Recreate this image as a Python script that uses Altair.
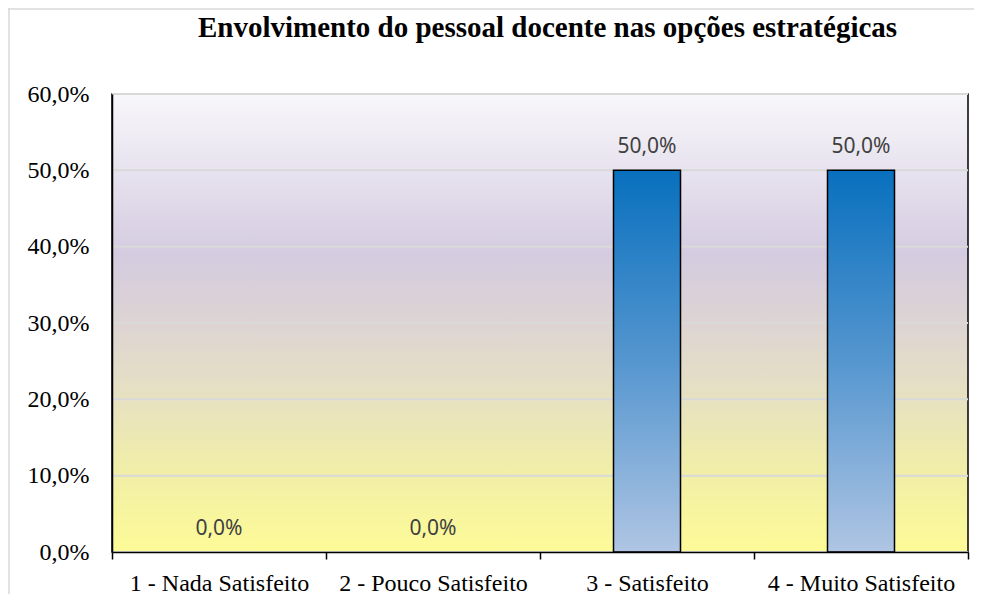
import altair as alt
import pandas as pd

# ---- data ----
categories = ["1 - Nada Satisfeito", "2 - Pouco Satisfeito", "3 - Satisfeito", "4 - Muito Satisfeito"]
values = [0.0, 0.0, 0.5, 0.5]
y_ticks = [0.0, 0.1, 0.2, 0.3, 0.4, 0.5, 0.6]
title_text = "Envolvimento do pessoal docente nas opções estratégicas"

W, H = 856, 458

df = pd.DataFrame({"category": categories, "value": values})
ticks_df = pd.DataFrame({"value": y_ticks})
one = pd.DataFrame({"t": [title_text]})

bg_grad = alt.Gradient(
    gradient="linear", x1=0, x2=0, y1=0, y2=1,
    stops=[
        alt.GradientStop(color="#f8f7fa", offset=0.0),
        alt.GradientStop(color="#e6e1ee", offset=0.18),
        alt.GradientStop(color="#d4cbe0", offset=0.35),
        alt.GradientStop(color="#ddd4d3", offset=0.50),
        alt.GradientStop(color="#e6e0c3", offset=0.65),
        alt.GradientStop(color="#f1eea8", offset=0.82),
        alt.GradientStop(color="#fdfb97", offset=1.0),
    ],
)
bar_grad = alt.Gradient(
    gradient="linear", x1=0, x2=0, y1=0, y2=1,
    stops=[
        alt.GradientStop(color="#0870be", offset=0.0),
        alt.GradientStop(color="#5596cf", offset=0.5),
        alt.GradientStop(color="#afc5e3", offset=1.0),
    ],
)

fmt = "replace(format(datum.value, '.1%'), '.', ',')"

y_scale = alt.Scale(domain=[0, 0.6], nice=False)
y_axis = alt.Axis(
    title=None, values=y_ticks, labelExpr=fmt,
    labelFont="Liberation Serif", labelFontSize=24, labelColor="black",
    ticks=False, tickSize=0, labelPadding=23, labelOffset=0,
    domainColor="black", domainWidth=1.5, grid=False, zindex=1,
)
x_enc = alt.X(
    "category:N", sort=categories,
    scale=alt.Scale(paddingInner=0, paddingOuter=0),
    axis=alt.Axis(
        title=None, labelAngle=0, labelFont="Liberation Serif", labelFontSize=24,
        labelColor="black", labelLimit=400, tickBand="extent", tickSize=7,
        tickWidth=1.5, tickColor="black", domainColor="black", domainWidth=1.5,
        labelPadding=12, grid=False, zindex=1,
    ),
)

# chart-area border (top and left edges visible in the reference)
border_top = alt.Chart(one).mark_rule(color="#d9d9d9", strokeWidth=1.5).encode(
    x=alt.value(-104), x2=alt.value(W + 100), y=alt.value(-85)
)
border_left = alt.Chart(one).mark_rule(color="#d9d9d9", strokeWidth=1.5).encode(
    x=alt.value(-103), y=alt.value(-86), y2=alt.value(H + 100)
)

plot_bg = alt.Chart(one).mark_rect(fill=bg_grad, stroke="black", strokeWidth=1.5).encode(
    x=alt.value(0), x2=alt.value(W), y=alt.value(0), y2=alt.value(H)
)

grid = alt.Chart(ticks_df).mark_rule(color="#d9d9d9", strokeWidth=2).encode(
    y=alt.Y("value:Q", scale=y_scale, axis=y_axis),
    x=alt.value(0), x2=alt.value(W),
)

bars = alt.Chart(df).mark_bar(
    fill=bar_grad, stroke="black", strokeWidth=1.5, width=alt.RelativeBandSize(67 / 214)
).encode(
    x=x_enc,
    y=alt.Y("value:Q", scale=y_scale, axis=y_axis),
    strokeOpacity=alt.condition("datum.value > 0", alt.value(1), alt.value(0)),
)

labels = alt.Chart(df).transform_calculate(label=fmt).mark_text(
    font="Noto Sans", fontSize=21, color="#404040", baseline="alphabetic", align="center", dy=-17
).encode(
    x=x_enc,
    y=alt.Y("value:Q", scale=y_scale, axis=y_axis),
    text="label:N",
)

title = alt.Chart(one).mark_text(
    font="Liberation Serif", fontSize=29, fontWeight="bold", align="center",
    baseline="alphabetic", color="black"
).encode(x=alt.value(435.5), y=alt.value(-57), text="t:N")

chart = alt.layer(border_top, border_left, plot_bg, grid, bars, labels, title).properties(
    width=W, height=H,
    autosize=alt.AutoSizeParams(type="none"),
    padding={"left": 104, "top": 86, "right": 6, "bottom": 42},
    background="white",
).configure_view(stroke=None)

chart.save("out.html", embed_options={"renderer": "svg", "actions": False})
